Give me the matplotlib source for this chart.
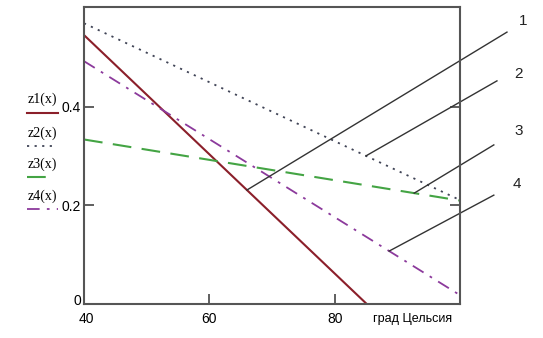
import numpy as np
import matplotlib
matplotlib.use("Agg")
import matplotlib.pyplot as plt
import matplotlib.transforms as mtransforms
from matplotlib.lines import Line2D

# ---- data ----
x_end = [40, 100]
z1 = [0.546, -0.180]   # hits 0 near x=85
z2 = [0.570, 0.211]
z3 = [0.334, 0.210]
z4 = [0.493, 0.018]
names = ["z1(x)", "z2(x)", "z3(x)", "z4(x)"]

# leader lines: anchor x on each curve, free end (data coords), label number
lead_x = [66.0, 85.0, 92.7, 88.7]
lead_end_x = [107.5, 105.9, 105.4, 105.4]
lead_end_y = [0.552, 0.453, 0.323, 0.221]
lead_lbl = ["1", "2", "3", "4"]
lbl_x = [110.0, 109.4, 109.4, 109.1]
lbl_y = [0.575, 0.467, 0.351, 0.244]

xticks = [40, 60, 80]
yticks = [0, 0.2, 0.4]

styles = [
    dict(color="#8b1f2a", lw=1.5, ls="-"),
    dict(color="#404456", lw=1.3, ls=(0, (1.2, 3.0))),
    dict(color="#44a444", lw=1.5, ls=(0, (9, 5))),
    dict(color="#8c3a9c", lw=1.3, ls=(0, (7, 4, 1.5, 4))),
]

fig = plt.figure(figsize=(5.43, 3.38), dpi=100)
ax = fig.add_axes([0.1547, 0.1006, 0.6924, 0.8787])

series = [z1, z2, z3, z4]
for ys, st in zip(series, styles):
    ax.plot(x_end, ys, **st)

ax.set_xlim(40, 100)
ax.set_ylim(0, 0.603)

# leader lines (reach outside the axes)
for ys, xa, xe, ye, t, lx, ly in zip(series, lead_x, lead_end_x, lead_end_y,
                                     lead_lbl, lbl_x, lbl_y):
    ya = np.interp(xa, x_end, ys)
    ax.plot([xa, xe], [ya, ye], color="#333333", lw=1.0, clip_on=False)
    ax.text(lx, ly, t, fontsize=11, family="Liberation Sans", color="#222222",
            ha="center", va="center", clip_on=False)

for s in ax.spines.values():
    s.set_color("#555555")
    s.set_linewidth(1.5)

ax.set_xticks(xticks)
ax.set_yticks(yticks)
ax.set_xticklabels([str(v) for v in xticks], family="Liberation Sans", fontsize=10)
ax.set_yticklabels(["0", "0.2", "0.4"], family="Liberation Sans", fontsize=10)
ax.tick_params(direction="in", length=7, width=1.2, color="#444444",
               right=True, pad=2)
ax.tick_params(axis="x", pad=6)

# nudge "0" up and "40" right, as in the original
lab0 = ax.get_yticklabels()[0]
lab0.set_transform(lab0.get_transform()
                   + mtransforms.ScaledTranslation(0, 3 / 72, fig.dpi_scale_trans))
lab40 = ax.get_xticklabels()[0]
lab40.set_transform(lab40.get_transform()
                    + mtransforms.ScaledTranslation(2 / 72, 0, fig.dpi_scale_trans))

ax.text(0.875, -0.05, "град Цельсия", transform=ax.transAxes,
        family="Liberation Sans", fontsize=9, ha="center", va="center")

# legend drawn at the left like the original
leg_y_txt = [0.705, 0.607, 0.515, 0.42]
leg_y_line = [0.666, 0.568, 0.476, 0.381]
leg_len = [0.057, 0.048, 0.04, 0.057]
for name, st, yt, yl, ln in zip(names, styles, leg_y_txt, leg_y_line, leg_len):
    fig.text(0.050, yt, name, family="Liberation Serif", fontsize=10,
             ha="left", va="center")
    fig.add_artist(Line2D([0.050, 0.050 + ln], [yl, yl], transform=fig.transFigure,
                          **st))

fig.savefig("out.png", dpi=100)
